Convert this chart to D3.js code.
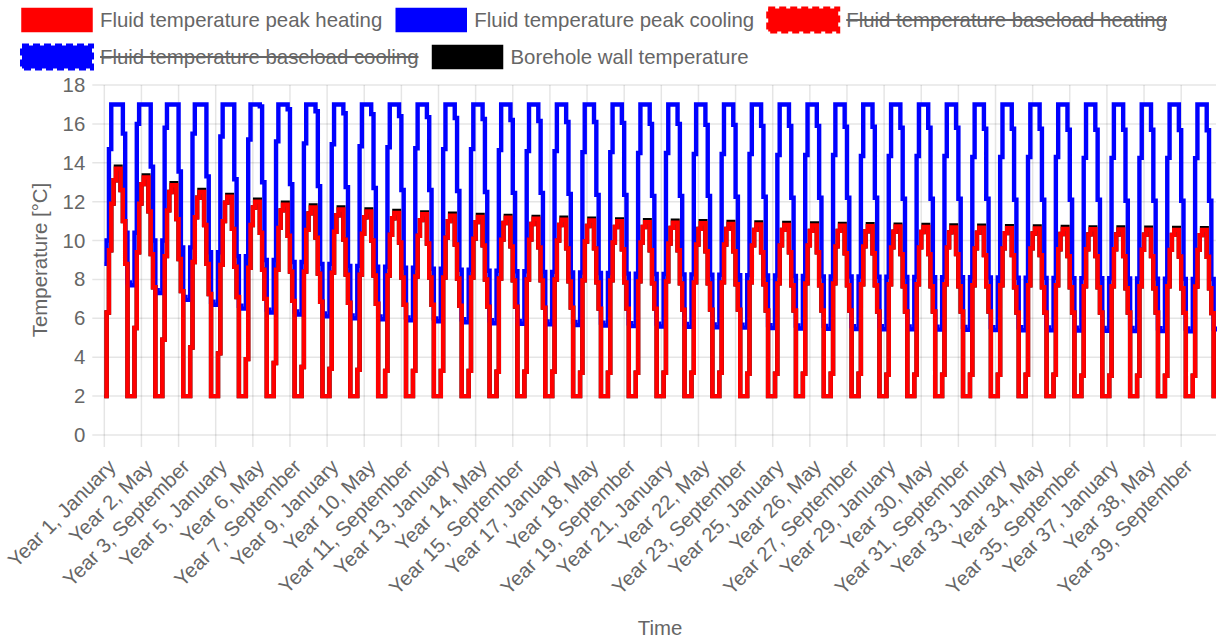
<!DOCTYPE html>
<html>
<head>
<meta charset="utf-8">
<title>Fluid temperature</title>
<script src="https://cdn.jsdelivr.net/npm/d3@7"></script>
<style>
  body { margin: 0; background: #fff; }
  svg { display: block; }
  text { font-family: "Liberation Sans", Arial, sans-serif; }
</style>
</head>
<body>
<svg width="1217" height="642"></svg>
<script>
// one row per year, January..December
const monthNames = ['January', 'February', 'March', 'April', 'May', 'June', 'July',
  'August', 'September', 'October', 'November', 'December'];
const yearCount = 40;
const yTicks = [0, 2, 4, 6, 8, 10, 12, 14, 16, 18];

const heatingPeak = [
  [2, 6.3, 9.5, 11.9, 13.1, 13.7, 13.7, 12.6, 11.0, 8.8, 2, 2],
  [2, 5.5, 9.4, 11.9, 12.9, 13.25, 13.25, 11.5, 9.3, 7.6, 2, 2],
  [2, 4.9, 9.2, 11.55, 12.5, 12.85, 12.85, 11.1, 9.05, 7.4, 2, 2],
  [2, 4.5, 8.9, 11.2, 12.2, 12.5, 12.5, 10.8, 8.8, 7.25, 2, 2],
  [2, 4.2, 8.75, 11.0, 11.95, 12.25, 12.25, 10.6, 8.65, 7.1, 2, 2],
  [2, 3.9, 8.6, 10.8, 11.7, 12.0, 12.0, 10.4, 8.5, 7.0, 2, 2],
  [2, 3.7, 8.5, 10.65, 11.55, 11.85, 11.85, 10.25, 8.4, 6.9, 2, 2],
  [2, 3.5, 8.4, 10.55, 11.4, 11.7, 11.7, 10.15, 8.3, 6.85, 2, 2],
  [2, 3.4, 8.35, 10.45, 11.3, 11.6, 11.6, 10.05, 8.25, 6.8, 2, 2],
  [2, 3.35, 8.25, 10.35, 11.2, 11.5, 11.5, 10.0, 8.2, 6.75, 2, 2],
  [2, 3.3, 8.2, 10.3, 11.15, 11.42, 11.42, 9.9, 8.1, 6.7, 2, 2],
  [2, 3.3, 8.15, 10.25, 11.05, 11.35, 11.35, 9.85, 8.1, 6.7, 2, 2],
  [2, 3.3, 8.1, 10.15, 11.0, 11.28, 11.28, 9.8, 8.05, 6.65, 2, 2],
  [2, 3.3, 8.1, 10.1, 10.95, 11.22, 11.22, 9.75, 8.0, 6.6, 2, 2],
  [2, 3.25, 8.05, 10.05, 10.9, 11.17, 11.17, 9.7, 7.95, 6.6, 2, 2],
  [2, 3.25, 8.0, 10.05, 10.85, 11.12, 11.12, 9.65, 7.95, 6.55, 2, 2],
  [2, 3.25, 8.0, 10.0, 10.8, 11.07, 11.07, 9.6, 7.9, 6.55, 2, 2],
  [2, 3.2, 7.95, 9.95, 10.75, 11.03, 11.03, 9.6, 7.85, 6.5, 2, 2],
  [2, 3.2, 7.95, 9.9, 10.7, 10.99, 10.99, 9.55, 7.85, 6.5, 2, 2],
  [2, 3.2, 7.9, 9.9, 10.7, 10.95, 10.95, 9.5, 7.8, 6.5, 2, 2],
  [2, 3.2, 7.9, 9.85, 10.65, 10.92, 10.92, 9.5, 7.8, 6.45, 2, 2],
  [2, 3.2, 7.85, 9.8, 10.6, 10.89, 10.89, 9.45, 7.8, 6.45, 2, 2],
  [2, 3.2, 7.85, 9.8, 10.6, 10.86, 10.86, 9.45, 7.75, 6.45, 2, 2],
  [2, 3.15, 7.85, 9.75, 10.55, 10.83, 10.83, 9.4, 7.75, 6.4, 2, 2],
  [2, 3.15, 7.8, 9.75, 10.55, 10.8, 10.8, 9.4, 7.7, 6.4, 2, 2],
  [2, 3.15, 7.8, 9.75, 10.5, 10.78, 10.78, 9.4, 7.7, 6.4, 2, 2],
  [2, 3.15, 7.8, 9.7, 10.5, 10.76, 10.76, 9.35, 7.7, 6.4, 2, 2],
  [2, 3.15, 7.75, 9.7, 10.48, 10.74, 10.74, 9.35, 7.7, 6.35, 2, 2],
  [2, 3.1, 7.75, 9.65, 10.45, 10.72, 10.72, 9.3, 7.65, 6.35, 2, 2],
  [2, 3.1, 7.75, 9.65, 10.44, 10.7, 10.7, 9.3, 7.65, 6.35, 2, 2],
  [2, 3.1, 7.75, 9.65, 10.42, 10.68, 10.68, 9.3, 7.65, 6.35, 2, 2],
  [2, 3.1, 7.7, 9.6, 10.4, 10.66, 10.66, 9.25, 7.65, 6.35, 2, 2],
  [2, 3.1, 7.7, 9.6, 10.38, 10.64, 10.64, 9.25, 7.6, 6.3, 2, 2],
  [2, 3.1, 7.7, 9.6, 10.36, 10.62, 10.62, 9.25, 7.6, 6.3, 2, 2],
  [2, 3.1, 7.7, 9.55, 10.34, 10.6, 10.6, 9.2, 7.6, 6.3, 2, 2],
  [2, 3.05, 7.65, 9.55, 10.32, 10.58, 10.58, 9.2, 7.6, 6.3, 2, 2],
  [2, 3.05, 7.65, 9.55, 10.31, 10.57, 10.57, 9.2, 7.55, 6.3, 2, 2],
  [2, 3.05, 7.65, 9.53, 10.3, 10.56, 10.56, 9.2, 7.55, 6.3, 2, 2],
  [2, 3.05, 7.65, 9.52, 10.29, 10.55, 10.55, 9.18, 7.55, 6.28, 2, 2],
  [2, 3.05, 7.64, 9.52, 10.28, 10.54, 10.54, 9.17, 7.55, 6.27, 2, 2]
];

const coolingPeak = [
  [8.8, 10.0, 14.7, 17, 17, 17, 17, 17, 15.5, 10.4, 7.85, 7.7],
  [7.7, 10.4, 16.0, 17, 17, 17, 17, 17, 13.8, 10.0, 7.45, 7.3],
  [7.3, 10.0, 15.8, 17, 17, 17, 17, 17, 13.55, 9.65, 7.1, 6.95],
  [6.95, 9.65, 15.5, 17, 17, 17, 17, 17, 13.3, 9.4, 6.85, 6.7],
  [6.7, 9.4, 15.35, 17, 17, 17, 17, 17, 13.15, 9.2, 6.65, 6.5],
  [6.5, 9.2, 15.2, 17, 17, 17, 17, 16.9, 13.0, 9.0, 6.45, 6.3],
  [6.3, 9.0, 15.1, 17, 17, 17, 17, 16.75, 12.9, 8.9, 6.35, 6.2],
  [6.2, 8.9, 15.0, 17, 17, 17, 17, 16.65, 12.8, 8.8, 6.25, 6.1],
  [6.1, 8.8, 14.95, 17, 17, 17, 17, 16.55, 12.75, 8.7, 6.15, 6.0],
  [6.0, 8.7, 14.85, 17, 17, 17, 17, 16.5, 12.7, 8.65, 6.1, 5.95],
  [5.95, 8.65, 14.8, 17, 17, 17, 17, 16.4, 12.6, 8.6, 6.05, 5.9],
  [5.9, 8.6, 14.75, 17, 17, 17, 17, 16.35, 12.6, 8.55, 6.0, 5.85],
  [5.85, 8.55, 14.7, 17, 17, 17, 17, 16.3, 12.55, 8.5, 5.95, 5.8],
  [5.8, 8.5, 14.7, 17, 17, 17, 17, 16.25, 12.5, 8.45, 5.9, 5.75],
  [5.75, 8.45, 14.65, 17, 17, 17, 17, 16.2, 12.45, 8.42, 5.87, 5.72],
  [5.72, 8.42, 14.6, 17, 17, 17, 17, 16.15, 12.45, 8.39, 5.84, 5.69],
  [5.69, 8.39, 14.6, 17, 17, 17, 17, 16.1, 12.4, 8.36, 5.81, 5.66],
  [5.66, 8.36, 14.55, 17, 17, 17, 17, 16.1, 12.35, 8.33, 5.78, 5.63],
  [5.63, 8.33, 14.55, 17, 17, 17, 17, 16.05, 12.35, 8.3, 5.75, 5.6],
  [5.6, 8.3, 14.5, 17, 17, 17, 17, 16.0, 12.3, 8.28, 5.73, 5.58],
  [5.58, 8.28, 14.5, 17, 17, 17, 17, 16.0, 12.3, 8.26, 5.71, 5.56],
  [5.56, 8.26, 14.45, 17, 17, 17, 17, 15.95, 12.3, 8.24, 5.69, 5.54],
  [5.54, 8.24, 14.45, 17, 17, 17, 17, 15.95, 12.25, 8.22, 5.67, 5.52],
  [5.52, 8.22, 14.45, 17, 17, 17, 17, 15.9, 12.25, 8.2, 5.65, 5.5],
  [5.5, 8.2, 14.4, 17, 17, 17, 17, 15.9, 12.2, 8.18, 5.63, 5.48],
  [5.48, 8.18, 14.4, 17, 17, 17, 17, 15.9, 12.2, 8.16, 5.61, 5.46],
  [5.46, 8.16, 14.4, 17, 17, 17, 17, 15.85, 12.2, 8.15, 5.6, 5.45],
  [5.45, 8.15, 14.35, 17, 17, 17, 17, 15.85, 12.2, 8.14, 5.59, 5.44],
  [5.44, 8.14, 14.35, 17, 17, 17, 17, 15.8, 12.15, 8.13, 5.58, 5.43],
  [5.43, 8.13, 14.35, 17, 17, 17, 17, 15.8, 12.15, 8.12, 5.57, 5.42],
  [5.42, 8.12, 14.35, 17, 17, 17, 17, 15.8, 12.15, 8.11, 5.56, 5.41],
  [5.41, 8.11, 14.3, 17, 17, 17, 17, 15.75, 12.15, 8.1, 5.55, 5.4],
  [5.4, 8.1, 14.3, 17, 17, 17, 17, 15.75, 12.1, 8.09, 5.54, 5.39],
  [5.39, 8.09, 14.3, 17, 17, 17, 17, 15.75, 12.1, 8.08, 5.53, 5.38],
  [5.38, 8.08, 14.3, 17, 17, 17, 17, 15.7, 12.1, 8.07, 5.52, 5.37],
  [5.37, 8.07, 14.25, 17, 17, 17, 17, 15.7, 12.1, 8.06, 5.51, 5.36],
  [5.36, 8.06, 14.25, 17, 17, 17, 17, 15.7, 12.05, 8.05, 5.5, 5.35],
  [5.35, 8.05, 14.25, 17, 17, 17, 17, 15.7, 12.05, 8.04, 5.49, 5.34],
  [5.34, 8.04, 14.25, 17, 17, 17, 17, 15.68, 12.05, 8.03, 5.48, 5.33],
  [5.33, 8.03, 14.24, 17, 17, 17, 17, 15.67, 12.05, 8.02, 5.47, 5.32]
];

// mostly hidden under the fluid lines, shows only as a cap on the summer peak
const boreholeWall = [
  [2, 6.3, 9.5, 11.9, 13.1, 13.8, 13.8, 12.6, 11.0, 8.8, 2, 2],
  [2, 5.5, 9.4, 11.9, 12.9, 13.35, 13.35, 11.5, 9.3, 7.6, 2, 2],
  [2, 4.9, 9.2, 11.55, 12.5, 12.95, 12.95, 11.1, 9.05, 7.4, 2, 2],
  [2, 4.5, 8.9, 11.2, 12.2, 12.6, 12.6, 10.8, 8.8, 7.25, 2, 2],
  [2, 4.2, 8.75, 11.0, 11.95, 12.35, 12.35, 10.6, 8.65, 7.1, 2, 2],
  [2, 3.9, 8.6, 10.8, 11.7, 12.1, 12.1, 10.4, 8.5, 7.0, 2, 2],
  [2, 3.7, 8.5, 10.65, 11.55, 11.95, 11.95, 10.25, 8.4, 6.9, 2, 2],
  [2, 3.5, 8.4, 10.55, 11.4, 11.8, 11.8, 10.15, 8.3, 6.85, 2, 2],
  [2, 3.4, 8.35, 10.45, 11.3, 11.7, 11.7, 10.05, 8.25, 6.8, 2, 2],
  [2, 3.35, 8.25, 10.35, 11.2, 11.6, 11.6, 10.0, 8.2, 6.75, 2, 2],
  [2, 3.3, 8.2, 10.3, 11.15, 11.52, 11.52, 9.9, 8.1, 6.7, 2, 2],
  [2, 3.3, 8.15, 10.25, 11.05, 11.45, 11.45, 9.85, 8.1, 6.7, 2, 2],
  [2, 3.3, 8.1, 10.15, 11.0, 11.38, 11.38, 9.8, 8.05, 6.65, 2, 2],
  [2, 3.3, 8.1, 10.1, 10.95, 11.32, 11.32, 9.75, 8.0, 6.6, 2, 2],
  [2, 3.25, 8.05, 10.05, 10.9, 11.27, 11.27, 9.7, 7.95, 6.6, 2, 2],
  [2, 3.25, 8.0, 10.05, 10.85, 11.22, 11.22, 9.65, 7.95, 6.55, 2, 2],
  [2, 3.25, 8.0, 10.0, 10.8, 11.17, 11.17, 9.6, 7.9, 6.55, 2, 2],
  [2, 3.2, 7.95, 9.95, 10.75, 11.13, 11.13, 9.6, 7.85, 6.5, 2, 2],
  [2, 3.2, 7.95, 9.9, 10.7, 11.09, 11.09, 9.55, 7.85, 6.5, 2, 2],
  [2, 3.2, 7.9, 9.9, 10.7, 11.05, 11.05, 9.5, 7.8, 6.5, 2, 2],
  [2, 3.2, 7.9, 9.85, 10.65, 11.02, 11.02, 9.5, 7.8, 6.45, 2, 2],
  [2, 3.2, 7.85, 9.8, 10.6, 10.99, 10.99, 9.45, 7.8, 6.45, 2, 2],
  [2, 3.2, 7.85, 9.8, 10.6, 10.96, 10.96, 9.45, 7.75, 6.45, 2, 2],
  [2, 3.15, 7.85, 9.75, 10.55, 10.93, 10.93, 9.4, 7.75, 6.4, 2, 2],
  [2, 3.15, 7.8, 9.75, 10.55, 10.9, 10.9, 9.4, 7.7, 6.4, 2, 2],
  [2, 3.15, 7.8, 9.75, 10.5, 10.88, 10.88, 9.4, 7.7, 6.4, 2, 2],
  [2, 3.15, 7.8, 9.7, 10.5, 10.86, 10.86, 9.35, 7.7, 6.4, 2, 2],
  [2, 3.15, 7.75, 9.7, 10.48, 10.84, 10.84, 9.35, 7.7, 6.35, 2, 2],
  [2, 3.1, 7.75, 9.65, 10.45, 10.82, 10.82, 9.3, 7.65, 6.35, 2, 2],
  [2, 3.1, 7.75, 9.65, 10.44, 10.8, 10.8, 9.3, 7.65, 6.35, 2, 2],
  [2, 3.1, 7.75, 9.65, 10.42, 10.78, 10.78, 9.3, 7.65, 6.35, 2, 2],
  [2, 3.1, 7.7, 9.6, 10.4, 10.76, 10.76, 9.25, 7.65, 6.35, 2, 2],
  [2, 3.1, 7.7, 9.6, 10.38, 10.74, 10.74, 9.25, 7.6, 6.3, 2, 2],
  [2, 3.1, 7.7, 9.6, 10.36, 10.72, 10.72, 9.25, 7.6, 6.3, 2, 2],
  [2, 3.1, 7.7, 9.55, 10.34, 10.7, 10.7, 9.2, 7.6, 6.3, 2, 2],
  [2, 3.05, 7.65, 9.55, 10.32, 10.68, 10.68, 9.2, 7.6, 6.3, 2, 2],
  [2, 3.05, 7.65, 9.55, 10.31, 10.67, 10.67, 9.2, 7.55, 6.3, 2, 2],
  [2, 3.05, 7.65, 9.53, 10.3, 10.66, 10.66, 9.2, 7.55, 6.3, 2, 2],
  [2, 3.05, 7.65, 9.52, 10.29, 10.65, 10.65, 9.18, 7.55, 6.28, 2, 2],
  [2, 3.05, 7.64, 9.52, 10.28, 10.64, 10.64, 9.17, 7.55, 6.27, 2, 2]
];

const legendItems = [
  { name: 'Fluid temperature peak heating', color: '#ff0000', dashed: false, hidden: false },
  { name: 'Fluid temperature peak cooling', color: '#0000ff', dashed: false, hidden: false },
  { name: 'Fluid temperature baseload heating', color: '#ff0000', dashed: true, hidden: true },
  { name: 'Fluid temperature baseload cooling', color: '#0000ff', dashed: true, hidden: true },
  { name: 'Borehole wall temperature', color: '#000000', dashed: false, hidden: false }
];

const labels = [];
for (let yr = 1; yr <= yearCount; yr += 1) {
  monthNames.forEach((m) => labels.push(`Year ${yr}, ${m}`));
}

const svg = d3.select('svg');
const width = +svg.attr('width');
const textColor = '#666';
const fontSize = 20.4;
const gridColor = 'rgba(0,0,0,0.1)';
const plot = { left: 104.3, right: width - 1, top: 85, bottom: 435 };

const x = d3.scalePoint().domain(labels).range([plot.left, plot.right]);
const y = d3.scaleLinear().domain([0, 18]).range([plot.bottom, plot.top]);
const xTickLabels = labels.filter((d, i) => i % 16 === 0);

// grid
const grid = svg.append('g');
grid.selectAll('.hgrid')
  .data(yTicks)
  .enter().append('line')
  .attr('x1', plot.left - 12)
  .attr('x2', plot.right)
  .attr('y1', d => y(d))
  .attr('y2', d => y(d))
  .attr('stroke', gridColor)
  .attr('stroke-width', 1.5);
grid.selectAll('.vgrid')
  .data(xTickLabels)
  .enter().append('line')
  .attr('x1', d => x(d))
  .attr('x2', d => x(d))
  .attr('y1', plot.top)
  .attr('y2', plot.bottom + 12)
  .attr('stroke', gridColor)
  .attr('stroke-width', 1.5);

// y axis labels
const yAxis = svg.append('g')
  .attr('transform', `translate(${plot.left},0)`)
  .call(d3.axisLeft(y).tickValues(yTicks).tickSize(0).tickPadding(19));
yAxis.select('.domain').remove();
yAxis.selectAll('text')
  .attr('fill', textColor)
  .style('font-size', `${fontSize}px`)
  .style('font-family', '"Liberation Sans", Arial, sans-serif');

// x axis labels, rotated
const xAxis = svg.append('g')
  .attr('transform', `translate(0,${plot.bottom})`)
  .call(d3.axisBottom(x).tickValues(xTickLabels).tickSize(0));
xAxis.select('.domain').remove();
xAxis.selectAll('text')
  .attr('x', 0)
  .attr('y', 0)
  .attr('dy', '0.35em')
  .attr('transform', 'translate(7,28) rotate(-45)')
  .style('text-anchor', 'end')
  .attr('fill', textColor)
  .style('font-size', `${fontSize}px`)
  .style('font-family', '"Liberation Sans", Arial, sans-serif');

// axis titles
svg.append('text')
  .attr('transform', `translate(40,${(plot.top + plot.bottom) / 2}) rotate(-90)`)
  .attr('dy', '0.35em')
  .style('text-anchor', 'middle')
  .style('font-size', `${fontSize}px`)
  .attr('fill', textColor)
  .text('Temperature [°C]');

svg.append('text')
  .attr('x', (plot.left + plot.right) / 2)
  .attr('y', 628)
  .attr('dy', '0.35em')
  .style('text-anchor', 'middle')
  .style('font-size', `${fontSize}px`)
  .attr('fill', textColor)
  .text('Time');

// series, last dataset drawn first like Chart.js
const line = d3.line()
  .x((d, i) => x(labels[i]))
  .y(d => y(d))
  .curve(d3.curveStepAfter);

const series = [
  { values: boreholeWall.flat(), color: '#000000' },
  { values: coolingPeak.flat(), color: '#0000ff' },
  { values: heatingPeak.flat(), color: '#ff0000' }
];

svg.append('g').selectAll('path')
  .data(series)
  .enter().append('path')
  .attr('d', d => line(d.values))
  .attr('fill', 'none')
  .attr('stroke', d => d.color)
  .attr('stroke-width', 4.4)
  .attr('stroke-linejoin', 'miter');

// legend
const legend = svg.append('g');
const boxW = 70;
const boxH = 23;
let lx = 22;
let row = 0;
legendItems.forEach((item) => {
  const g = legend.append('g');
  const label = g.append('text')
    .attr('x', boxW + 8)
    .attr('dy', '0.35em')
    .style('font-size', `${fontSize}px`)
    .attr('fill', textColor)
    .text(item.name);
  const tw = label.node().getComputedTextLength();
  if (lx + boxW + 8 + tw > width - 30) {
    lx = 22;
    row += 1;
  }
  const cy = 20 + (row * 37);
  g.attr('transform', `translate(${lx},${cy})`);
  g.insert('rect', 'text')
    .attr('x', 0)
    .attr('y', -boxH / 2)
    .attr('width', boxW)
    .attr('height', boxH)
    .attr('fill', item.color)
    .attr('stroke', item.color)
    .attr('stroke-width', item.dashed ? 4 : 1.5)
    .attr('stroke-dasharray', item.dashed ? '7,4' : null);
  if (item.hidden) {
    g.append('line')
      .attr('x1', boxW + 8)
      .attr('x2', boxW + 8 + tw)
      .attr('y1', 0)
      .attr('y2', 0)
      .attr('stroke', textColor)
      .attr('stroke-width', 2);
  }
  lx += boxW + 8 + tw + 14;
});
</script>
</body>
</html>
